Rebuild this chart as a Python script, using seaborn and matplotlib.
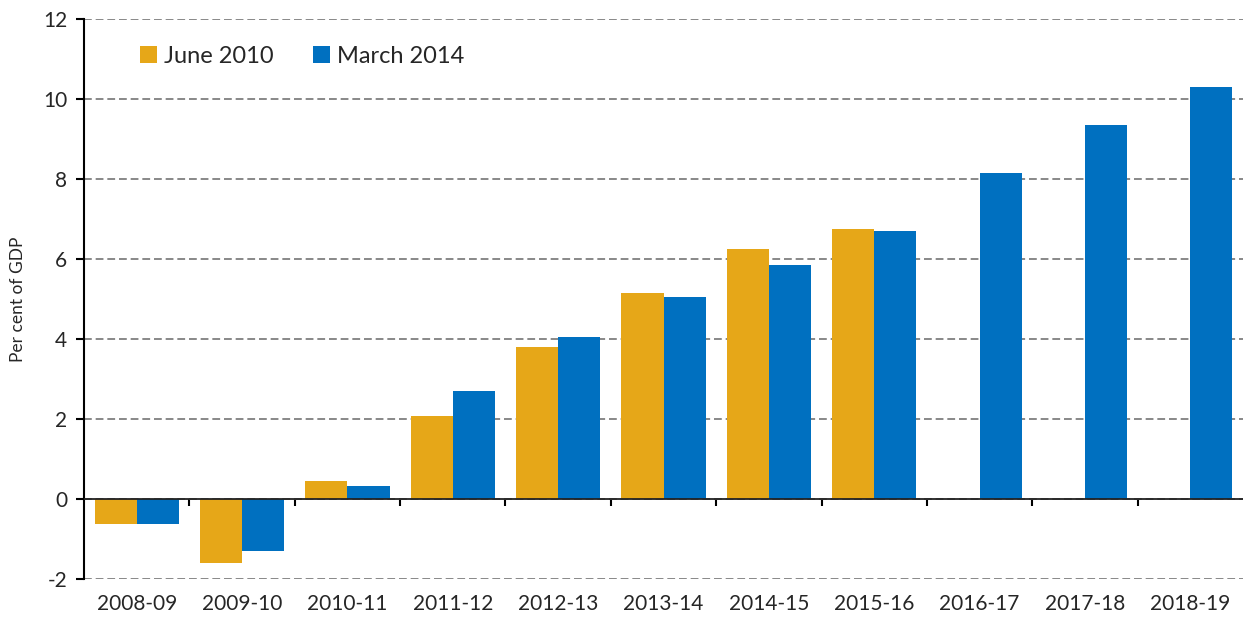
import matplotlib
matplotlib.use("Agg")
import matplotlib.pyplot as plt
import seaborn as sns
import pandas as pd
import numpy as np

# Data (per cent of GDP)
years = ["2008-09", "2009-10", "2010-11", "2011-12", "2012-13", "2013-14",
         "2014-15", "2015-16", "2016-17", "2017-18", "2018-19"]
june_2010 = [-0.62, -1.6, 0.45, 2.08, 3.8, 5.15, 6.25, 6.75, None, None, None]
march_2014 = [-0.62, -1.3, 0.32, 2.7, 4.05, 5.05, 5.85, 6.7, 8.15, 9.35, 10.3]
series = ["June 2010", "March 2014"]
colors = ["#E6A718", "#0070C0"]

df = pd.DataFrame({
    "year": years * 2,
    "value": june_2010 + march_2014,
    "series": [series[0]] * len(years) + [series[1]] * len(years),
}).dropna()

sns.set_style("white")
plt.rcParams["font.family"] = ["Lato", "DejaVu Sans"]
plt.rcParams["axes.unicode_minus"] = False

fig = plt.figure(figsize=(12.43, 6.22), dpi=100)
ax = fig.add_axes([0.0676, 0.0691, 0.9324, 0.9004])

sns.barplot(data=df, x="year", y="value", hue="series", order=years,
            hue_order=series, palette=colors, saturation=1, width=0.8,
            errorbar=None, linewidth=0, edgecolor="none", ax=ax, zorder=3)

ax.set_xlim(-0.5, len(years) - 0.5)
ax.set_ylim(-2, 12)
ax.set_yticks(range(-2, 13, 2))
ax.yaxis.grid(True, color="#888888", linestyle=(0, (4, 2)), linewidth=1.4, zorder=0)
ax.set_axisbelow(True)
ax.axhline(0, color="#222222", linewidth=1.3, zorder=4)

for s in ["top", "right", "bottom"]:
    ax.spines[s].set_visible(False)
ax.spines["left"].set_color("black")
ax.spines["left"].set_linewidth(1.5)

ax.tick_params(axis="y", length=6, width=1.5, color="black", direction="out",
               labelsize=15, pad=6, left=True)
ax.tick_params(axis="x", length=0, labelsize=15, pad=11)
ax.set_xlabel("")
ax.set_ylabel("Per cent of GDP", fontsize=12.5, labelpad=12)

# category boundary ticks on the zero line
sec = ax.secondary_xaxis(2 / 14)
sec.set_xticks(np.arange(0.5, len(years) - 1, 1.0))
sec.set_xticklabels([])
sec.spines["bottom"].set_visible(False)
sec.tick_params(length=5, width=1.5, color="black", direction="out")

ax.legend(loc="upper left", bbox_to_anchor=(0.03, 0.99), ncol=2, frameon=False,
          fontsize=17, handlelength=0.7, handleheight=0.7, handletextpad=0.3,
          columnspacing=1.7)

fig.savefig("out.png", dpi=100)
